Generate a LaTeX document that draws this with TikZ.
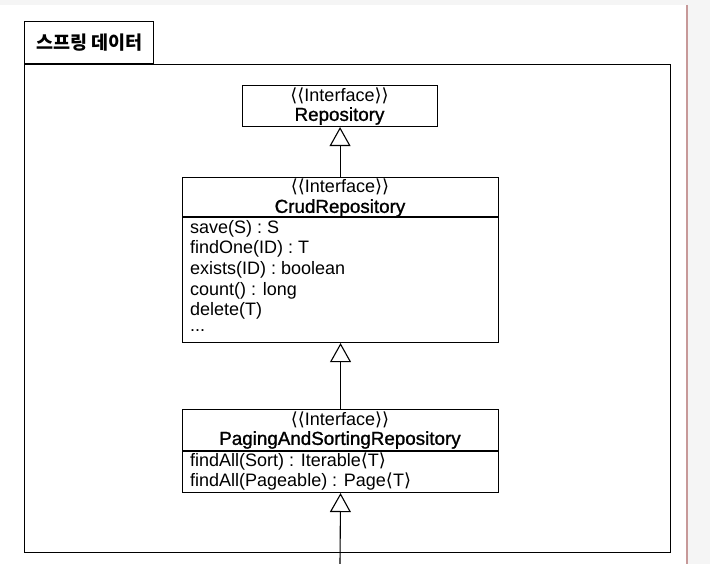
\documentclass[tikz,border=0pt]{standalone}
\usepackage{fontspec}
\setmainfont{Liberation Sans}
\newfontfamily\kr{Noto Sans CJK KR}
\newfontfamily\semib{Liberation Sans}[FakeBold=1.2]
\newfontfamily\dv{DejaVu Sans}
\newcommand\lab{{\dv ⟨}}
\newcommand\rab{{\dv ⟩}}
\usetikzlibrary{arrows.meta}
\tikzset{
  box/.style={draw=black, line width=1.1pt, fill=white, inner sep=0pt},
  txt/.style={inner sep=0pt, font=\fontsize{18}{20}\selectfont},
  meth/.style={txt, anchor=west},
  nm/.style={inner sep=0pt, font=\semib\fontsize{18.8}{20}\selectfont},
  ttl/.style={inner sep=0pt, font=\kr\fontsize{18.5}{20}\selectfont\bfseries},
  inh/.style={draw=black, line width=1.1pt, -{Triangle[open, length=19pt, width=21pt, line width=1.1pt]}},
}
\begin{document}
\begin{tikzpicture}[x=1pt,y=-1pt]
\useasboundingbox (0,0) rectangle (710,564);
\fill[black!4] (0,0) rectangle (710,564);
\fill[white] (0,5) rectangle (687,564);
\draw[red!45!black!40!white, line width=1.2pt] (687,5) -- (687,564);
% frame
\node[box, minimum width=646, minimum height=488, anchor=north west] (frame) at (24,64) {};
\node[box, minimum width=129, minimum height=42, anchor=south west] (tab) at (24,64) {};
\node[ttl, anchor=west] (tabt) at (36,43) {스프링 데이터};
% Repository
\node[box, minimum width=195, minimum height=41, anchor=north west] (repo) at (242,85) {};
\node[txt] (repos) at (339.5,96) {\lab\lab Interface\rab\rab};
\node[nm] (repon) at (339.5,116) {Repository};
% CrudRepository
\node[box, minimum width=316, minimum height=165, anchor=north west] (crud) at (182,177) {};
\draw[line width=1.1pt] (182,217) -- (498,217);
\node[txt] (cruds) at (340,187) {\lab\lab Interface\rab\rab};
\node[nm] (crudn) at (340,208) {CrudRepository};
\node[meth] (m1) at (190,229) {save(S) : S};
\node[meth] (m2) at (190,249) {findOne(ID) : T};
\node[meth] (m3) at (190,270) {exists(ID) : boolean};
\node[meth] (m4) at (190,291) {count() : long};
\node[meth] (m5) at (190,310.5) {delete(T)};
\node[meth] (m6) at (190,331) {...};
% Paging
\node[box, minimum width=316, minimum height=83, anchor=north west] (page) at (182,409) {};
\draw[line width=1.1pt] (182,451) -- (498,451);
\node[txt] (pages) at (340,420) {\lab\lab Interface\rab\rab};
\node[nm] (pagen) at (340,440) {PagingAndSortingRepository};
\node[meth] (p1) at (190,462) {findAll(Sort) : Iterable\lab T\rab};
\node[meth] (p2) at (190,482) {findAll(Pageable) : Page\lab T\rab};
% arrows
\coordinate (bot) at (340,564);
\draw[inh] (crud.north -| repo.south) -- (repo.south);
\draw[inh] (page.north) -- (crud.south);
\draw[inh] (bot) -- (page.south);
\end{tikzpicture}
\end{document}
